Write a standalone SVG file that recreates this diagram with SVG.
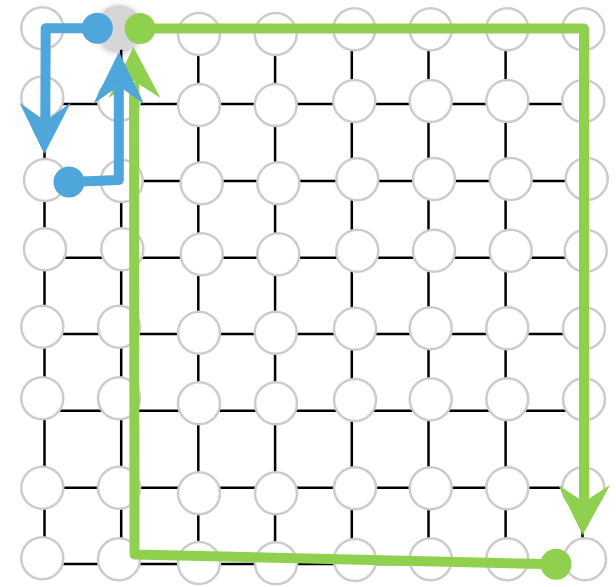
<svg xmlns="http://www.w3.org/2000/svg" width="616" height="587" viewBox="0 0 616 587">
<style>
.edge{stroke:#000;stroke-width:2.5;fill:none}
.node{fill:#fff;stroke:#cccccc;stroke-width:2.5}
.pb{stroke:#4fa6da;stroke-width:10;fill:none;stroke-linejoin:round}
.pg{stroke:#8fd14f;stroke-width:10;fill:none;stroke-linejoin:round}
.hb{fill:#4fa6da}
.hg{fill:#8fd14f}
</style>
<defs>
<filter id="glow" x="-50%" y="-50%" width="200%" height="200%">
<feDropShadow dx="0" dy="2" stdDeviation="3.5" flood-color="#000" flood-opacity="0.3"/>
</filter>
</defs>
<rect width="616" height="587" fill="#fff"/>
<g id="edges">
<path class="edge" d="M44.5 27.5H582.5M44.5 104.1H582.5M44.5 181H582.5M44.5 257.7H582.5M44.5 334H582.5M44.5 410.8H582.5M44.5 487.7H582.5M44.5 564H582.5"/>
<path class="edge" d="M44.5 27.5V564M121.2 27.5V564M198.3 27.5V564M275.1 27.5V564M351.8 27.5V564M428.5 27.5V564M505.6 27.5V564M582.5 27.5V564"/>
</g>
<g id="nodes">
<g id="n0-0"><circle class="node" cx="42.3" cy="28.3" r="21"/></g>
<g id="n0-1"><circle cx="119" cy="27.5" r="22.5" fill="#d6d6d6" filter="url(#glow)"/></g>
<g id="n0-2"><circle class="node" cx="199" cy="34" r="21"/></g>
<g id="n0-3"><circle class="node" cx="275.7" cy="34" r="21"/></g>
<g id="n0-4"><circle class="node" cx="354.3" cy="29.3" r="21"/></g>
<g id="n0-5"><circle class="node" cx="430.7" cy="29.3" r="21"/></g>
<g id="n0-6"><circle class="node" cx="507.3" cy="29.3" r="21"/></g>
<g id="n0-7"><circle class="node" cx="583.3" cy="29.3" r="21"/></g>
<g id="n1-0"><circle class="node" cx="42.3" cy="97.5" r="21"/></g>
<g id="n1-1"><circle class="node" cx="119" cy="100" r="21"/></g>
<g id="n1-2"><circle class="node" cx="199" cy="105" r="21"/></g>
<g id="n1-3"><circle class="node" cx="275.7" cy="105" r="21"/></g>
<g id="n1-4"><circle class="node" cx="354.3" cy="101" r="21"/></g>
<g id="n1-5"><circle class="node" cx="430.7" cy="101" r="21"/></g>
<g id="n1-6"><circle class="node" cx="507.3" cy="101" r="21"/></g>
<g id="n1-7"><circle class="node" cx="583.3" cy="101" r="21"/></g>
<g id="n2-0"><circle class="node" cx="45" cy="180" r="21"/></g>
<g id="n2-1"><circle class="node" cx="121.7" cy="181" r="21"/></g>
<g id="n2-2"><circle class="node" cx="201.7" cy="183.3" r="21"/></g>
<g id="n2-3"><circle class="node" cx="278.3" cy="183.3" r="21"/></g>
<g id="n2-4"><circle class="node" cx="357.3" cy="179.3" r="21"/></g>
<g id="n2-5"><circle class="node" cx="434" cy="179" r="21"/></g>
<g id="n2-6"><circle class="node" cx="510.7" cy="179" r="21"/></g>
<g id="n2-7"><circle class="node" cx="586.7" cy="179" r="21"/></g>
<g id="n3-0"><circle class="node" cx="45" cy="249.3" r="21"/></g>
<g id="n3-1"><circle class="node" cx="122.3" cy="249.3" r="21"/></g>
<g id="n3-2"><circle class="node" cx="201.7" cy="254.3" r="21"/></g>
<g id="n3-3"><circle class="node" cx="278.3" cy="254.3" r="21"/></g>
<g id="n3-4"><circle class="node" cx="357.3" cy="250.7" r="21"/></g>
<g id="n3-5"><circle class="node" cx="434" cy="250.7" r="21"/></g>
<g id="n3-6"><circle class="node" cx="510.7" cy="250.7" r="21"/></g>
<g id="n3-7"><circle class="node" cx="585.7" cy="250.7" r="21"/></g>
<g id="n4-0"><circle class="node" cx="42.3" cy="326.7" r="21"/></g>
<g id="n4-1"><circle class="node" cx="119" cy="326.7" r="21"/></g>
<g id="n4-2"><circle class="node" cx="199" cy="332.7" r="21"/></g>
<g id="n4-3"><circle class="node" cx="275.7" cy="332.7" r="21"/></g>
<g id="n4-4"><circle class="node" cx="355" cy="328.7" r="21"/></g>
<g id="n4-5"><circle class="node" cx="430.7" cy="328.3" r="21"/></g>
<g id="n4-6"><circle class="node" cx="507.3" cy="328.3" r="21"/></g>
<g id="n4-7"><circle class="node" cx="584" cy="328.3" r="21"/></g>
<g id="n5-0"><circle class="node" cx="42.3" cy="398.3" r="21"/></g>
<g id="n5-1"><circle class="node" cx="119" cy="398.3" r="21"/></g>
<g id="n5-2"><circle class="node" cx="199" cy="403.3" r="21"/></g>
<g id="n5-3"><circle class="node" cx="276" cy="403.3" r="21"/></g>
<g id="n5-4"><circle class="node" cx="355" cy="400" r="21"/></g>
<g id="n5-5"><circle class="node" cx="430.7" cy="399.3" r="21"/></g>
<g id="n5-6"><circle class="node" cx="507.3" cy="399.3" r="21"/></g>
<g id="n5-7"><circle class="node" cx="584" cy="399.3" r="21"/></g>
<g id="n6-0"><circle class="node" cx="42.3" cy="487.7" r="21"/></g>
<g id="n6-1"><circle class="node" cx="119" cy="487.7" r="21"/></g>
<g id="n6-2"><circle class="node" cx="199" cy="493.3" r="21"/></g>
<g id="n6-3"><circle class="node" cx="276" cy="493.3" r="21"/></g>
<g id="n6-4"><circle class="node" cx="355" cy="488.3" r="21"/></g>
<g id="n6-5"><circle class="node" cx="430.7" cy="488.3" r="21"/></g>
<g id="n6-6"><circle class="node" cx="507.3" cy="488.3" r="21"/></g>
<g id="n6-7"><circle class="node" cx="583.3" cy="488.3" r="21"/></g>
<g id="n7-0"><circle class="node" cx="42.3" cy="558.3" r="21"/></g>
<g id="n7-1"><circle class="node" cx="119" cy="559.3" r="21"/></g>
<g id="n7-2"><circle class="node" cx="199" cy="563" r="21"/></g>
<g id="n7-3"><circle class="node" cx="276" cy="563.3" r="21"/></g>
<g id="n7-4"><circle class="node" cx="355" cy="560" r="21"/></g>
<g id="n7-5"><circle class="node" cx="430.7" cy="559.3" r="21"/></g>
<g id="n7-6"><circle class="node" cx="507.3" cy="559.3" r="21"/></g>
<g id="n7-7"><circle class="node" cx="585" cy="559.3" r="21"/></g>
</g>
<g id="paths">
<g id="green-path-1">
<path class="pg" d="M140 28.5H584V503"/>
<circle class="hg" cx="140" cy="28.5" r="15.5"/>
<polygon class="hg" points="582.7,535 558.3,485 583.8,502 610,485"/>
</g>
<g id="green-path-2">
<path class="pg" d="M556 564.3L134.5 554.5L134 82"/>
<circle class="hg" cx="556" cy="564.3" r="15.5"/>
<polygon class="hg" points="133.5,47 108.5,98 134,81 160.5,98"/>
</g>
<g id="blue-path-1">
<path class="pb" d="M97 28.3H45.7L45.3 122"/>
<circle class="hb" cx="97.3" cy="28.3" r="15.5"/>
<polygon class="hb" points="44.3,154 19.5,102.7 45.4,121 70.7,102.7"/>
</g>
<g id="blue-path-2">
<path class="pb" d="M69 182L118.8 180V87"/>
<circle class="hb" cx="69" cy="182" r="15.5"/>
<polygon class="hb" points="119,51.7 93.3,104 118.8,86 144,104"/>
</g>
</g>
</svg>
